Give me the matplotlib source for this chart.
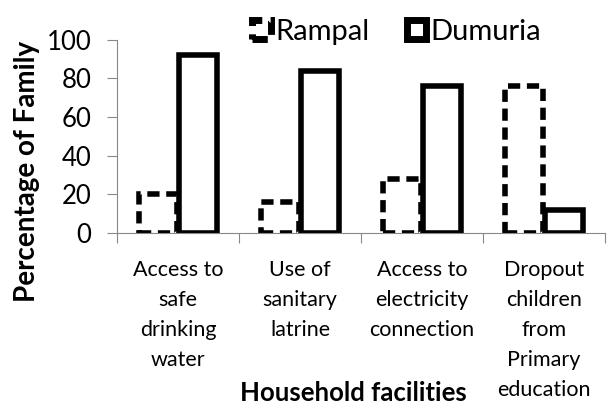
import matplotlib.pyplot as plt
import numpy as np

categories = ['Access to\nsafe\ndrinking\nwater', 'Use of\nsanitary\nlatrine',
              'Access to\nelectricity\nconnection', 'Dropout\nchildren\nfrom\nPrimary\neducation']
rampal = [20, 16, 28, 76]
dumuria = [92, 84, 76, 12]

plt.rcParams['font.family'] = ['Lato', 'DejaVu Sans']

fig = plt.figure(figsize=(6.1, 4.05), dpi=100)
ax = fig.add_axes([0.192, 0.425, 0.80, 0.477])

x = np.arange(len(categories))
w = 0.31
ax.bar(x - w / 2 - 0.01, rampal, w, facecolor='white', edgecolor='black',
       linewidth=4, linestyle=(0, (2.2, 1.2)), label='Rampal')
ax.bar(x + w / 2 + 0.01, dumuria, w, facecolor='white', edgecolor='black',
       linewidth=4, label='Dumuria')

ax.set_xlim(-0.5, len(categories) - 0.5)
ax.set_ylim(0, 100)
ax.set_yticks([0, 20, 40, 60, 80, 100])
ax.tick_params(axis='y', labelsize=18.5, length=7.5, color='#888888', pad=11)

# category boundaries as ticks, labels in the middle
ax.set_xticks(np.arange(len(categories) + 1) - 0.5)
ax.set_xticklabels([])
ax.tick_params(axis='x', length=7, color='#888888')
for i, c in enumerate(categories):
    ax.text(i, -14, c, ha='center', va='top', fontsize=15.5, linespacing=1.62)

for s in ['top', 'right']:
    ax.spines[s].set_visible(False)
ax.spines['left'].set_color('#888888')
ax.spines['bottom'].set_color('#888888')

ax.set_ylabel('Percentage of Family', fontsize=20, fontweight='bold')
ax.yaxis.set_label_coords(-0.158, 0.316)
fig.text(0.58, 0.0, 'Household facilities', ha='center', va='bottom',
         fontsize=18.5, fontweight='bold')

leg = ax.legend(loc='center', bbox_to_anchor=(0.572, 1.04), ncol=2, frameon=False,
                fontsize=21, handlelength=0.65, handleheight=0.65, handletextpad=0.15,
                columnspacing=1.3, borderaxespad=0)
for h in leg.legend_handles:
    h.set_linewidth(5)

fig.savefig('out.png', dpi=100)
